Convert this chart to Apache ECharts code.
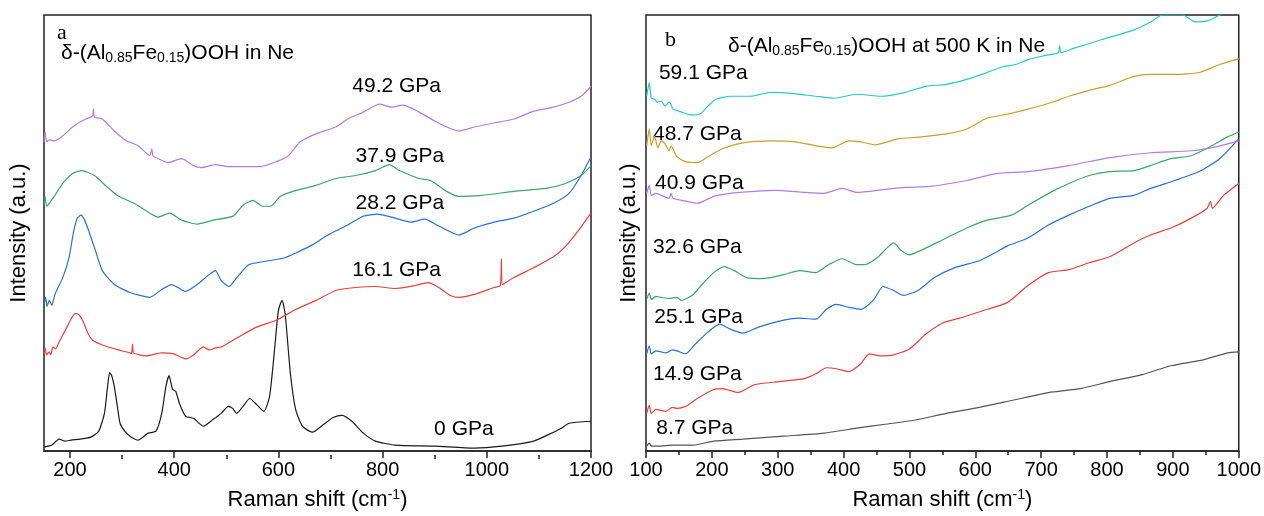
<!DOCTYPE html>
<html>
<head>
<meta charset="utf-8">
<script src="https://cdn.jsdelivr.net/npm/echarts@6/dist/echarts.min.js"></script>
<style>
  html, body { margin: 0; padding: 0; background: #fff; }
  #chart { width: 1264px; height: 516px; }
</style>
</head>
<body>
<div id="chart"></div>
<script>
// ---- panel a: δ-(Al0.85Fe0.15)OOH in Ne (stacked, arbitrary offsets) ----
const a0GPa = [[150,4],[165,6],[179,12],[190,10],[202,11],[220,12],[240,14],[255,20],[266,38],[272,65],[276,79],[280,76],[285,65],[290,48],[296,28],[305,20],[315,15],[331,11],[340,14],[350,18],[365,20],[376,38],[384,65],[390,76],[397,62],[403,60],[410,48],[422,35],[437,33],[456,25],[475,32],[490,38],[504,45],[512,43],[520,38],[532,45],[545,53],[558,47],[572,40],[583,55],[593,105],[600,142],[607,152],[613,138],[623,78],[633,42],[646,25],[665,19],[687,27],[706,34],[722,36],[741,30],[763,18],[786,10],[824,6],[900,5],[976,3],[1029,5],[1090,10],[1120,17],[1143,23],[1158,28],[1200,30]]
const a16GPa = [[150,98],[152,104],[155,97],[160,100],[163,97],[167,105],[172,103],[179,110],[194,125],[205,136],[211,139],[218,137],[224,132],[235,118],[243,112],[262,107],[293,102],[315,99],[318,98],[320,108],[322,99],[346,96],[376,99],[399,98],[422,93],[437,97],[456,105],[467,102],[479,104],[490,105],[520,114],[558,125],[596,132],[634,143],[672,152],[710,162],[748,165],[786,166],[824,164],[862,167],[888,170],[908,165],[930,157],[946,155],[976,158],[1014,165],[1026,167],[1028,194],[1030,168],[1052,175],[1090,185],[1128,196],[1150,206],[1175,222],[1200,240]]
const a28GPa = [[150,147],[153,155],[156,146],[160,152],[165,147],[171,158],[186,175],[198,195],[207,222],[214,235],[221,238],[228,233],[236,222],[247,205],[262,182],[285,168],[315,160],[353,155],[376,163],[395,168],[422,161],[444,168],[467,178],[479,182],[490,172],[505,166],[520,175],[543,188],[581,192],[612,195],[642,202],[665,208],[695,218],[733,228],[763,237],[790,239],[824,235],[854,231],[881,234],[908,227],[946,218],[976,225],[1014,231],[1052,235],[1090,242],[1128,250],[1158,260],[1181,278],[1200,297]]
const a37GPa = [[150,248],[152,257],[155,247],[160,250],[171,258],[186,270],[205,280],[222,283],[247,278],[270,267],[293,257],[323,250],[353,240],[369,236],[391,240],[414,233],[444,229],[475,233],[513,237],[532,248],[551,253],[570,247],[585,247],[604,257],[634,263],[672,268],[710,275],[748,278],[786,283],[813,289],[832,283],[870,275],[892,273],[923,262],[946,257],[991,258],[1052,262],[1113,265],[1151,270],[1181,278],[1200,288]]
const a49GPa = [[150,312],[152,322],[155,312],[160,314],[171,313],[186,318],[207,328],[230,335],[243,338],[245,345],[247,337],[262,335],[285,323],[308,313],[331,308],[353,298],[357,305],[359,298],[369,295],[388,291],[414,295],[437,288],[452,286],[479,289],[505,287],[536,287],[566,287],[596,292],[619,298],[642,312],[672,320],[710,327],[733,335],[763,342],[794,350],[817,347],[839,349],[870,342],[900,333],[923,327],[946,323],[976,327],[1014,331],[1052,335],[1090,343],[1128,347],[1158,352],[1181,358],[1200,368]]
const labelsA = [[827,368,'49.2 GPa'],[833,298,'37.9 GPa'],[833,250,'28.2 GPa'],[827,182,'16.1 GPa'],[956,22,'0 GPa']]
const ticksA = [200, 400, 600, 800, 1000, 1200]
const minorTicksA = [300, 500, 700, 900, 1100]

// ---- panel b: δ-(Al0.85Fe0.15)OOH at 500 K in Ne ----
const b8GPa = [[101,5],[105,8],[108,5],[120,5],[140,6],[172,6],[203,10],[247,12],[309,15],[370,18],[420,23],[463,27],[507,31],[556,38],[606,44],[655,51],[711,59],[760,63],[804,70],[853,77],[897,86],[946,92],[983,99],[1000,100]]
const b14GPa = [[101,38],[105,46],[108,38],[115,42],[123,41],[130,40],[140,44],[147,43],[160,45],[178,53],[203,62],[216,63],[240,59],[265,67],[302,70],[340,73],[358,78],[374,84],[389,83],[408,80],[426,88],[439,98],[457,96],[476,97],[500,103],[525,118],[550,129],[581,135],[618,143],[649,150],[680,167],[711,180],[742,183],[773,190],[804,196],[841,210],[866,218],[897,225],[928,235],[952,245],[957,252],[960,245],[977,258],[1000,270]]
const b25GPa = [[101,98],[105,106],[108,98],[115,101],[123,100],[130,99],[140,102],[147,101],[160,98],[175,108],[194,120],[212,128],[228,123],[247,119],[271,125],[309,132],[333,134],[358,133],[374,143],[389,148],[408,145],[426,143],[445,152],[460,166],[476,162],[491,157],[513,162],[538,175],[569,185],[606,192],[630,200],[649,207],[680,215],[711,228],[742,238],[773,247],[804,255],[841,258],[866,265],[903,273],[940,282],[971,295],[1000,315]]
const b32GPa = [[101,153],[105,159],[108,153],[115,156],[123,155],[135,154],[147,155],[154,152],[172,158],[185,168],[203,180],[219,186],[234,182],[253,175],[278,174],[309,178],[333,182],[358,180],[377,188],[398,194],[420,188],[432,188],[451,195],[466,205],[476,210],[488,202],[500,198],[519,203],[550,213],[587,225],[618,233],[655,238],[680,248],[717,262],[742,270],[773,278],[804,282],[841,283],[866,288],[897,295],[928,298],[959,308],[983,317],[1000,322]]
const b40GPa = [[101,260],[105,268],[108,258],[115,260],[123,258],[135,255],[138,260],[141,255],[154,253],[178,250],[203,257],[228,260],[265,262],[296,263],[340,261],[370,260],[398,265],[420,261],[463,264],[494,266],[531,267],[587,273],[631,280],[680,282],[742,288],[804,296],[866,301],[928,303],[965,307],[1000,313]]
const b48GPa = [[101,308],[105,325],[108,308],[113,318],[118,306],[123,313],[129,310],[135,303],[138,308],[147,297],[160,292],[178,291],[194,297],[216,305],[247,311],[290,313],[327,312],[358,308],[383,306],[408,313],[426,312],[448,309],[482,315],[519,317],[556,320],[587,325],[618,336],[649,340],[680,345],[717,352],[742,358],[773,364],[804,369],[841,378],[866,380],[903,380],[940,382],[971,390],[1000,396]]
const b59GPa = [[101,358],[105,372],[108,356],[113,355],[117,352],[123,353],[129,348],[135,352],[138,350],[141,345],[154,342],[169,339],[182,340],[194,348],[206,355],[228,358],[259,358],[290,362],[321,361],[358,358],[386,356],[420,360],[457,358],[494,362],[525,368],[556,370],[587,375],[618,382],[643,388],[661,390],[680,395],[705,399],[726,402],[728,409],[730,402],[748,406],[791,415],[841,425],[866,433],[884,440],[915,440],[934,433],[952,434],[971,440],[985,446],[1000,452]]
const labelsB = [[187,381,'59.1 GPa'],[178,320,'48.7 GPa'],[181,270,'40.9 GPa'],[178,206,'32.6 GPa'],[180,135,'25.1 GPa'],[178,77,'14.9 GPa'],[174,23,'8.7 GPa']]

const FONT = "'Liberation Sans', Arial, sans-serif"
const SERIF = "'Liberation Serif', 'Times New Roman', serif"
const AXIS_COLOR = '#222'
const TEXT_COLOR = '#000'

function line(data, color, xi, yi) {
  return {
    type: 'line',
    data: data,
    xAxisIndex: xi,
    yAxisIndex: yi,
    symbol: 'none',
    smooth: 0.2,
    lineStyle: { color: color, width: 1.2 },
    silent: true
  }
}

function labelSeries(list, xi, yi) {
  return {
    type: 'scatter',
    xAxisIndex: xi,
    yAxisIndex: yi,
    symbolSize: 0,
    data: list.map(d => ({ value: [d[0], d[1]], name: d[2] })),
    label: {
      show: true,
      position: 'inside',
      formatter: p => p.name,
      fontFamily: FONT,
      fontSize: 21,
      color: TEXT_COLOR,
      opacity: 1
    },
    silent: true
  }
}

const subRich = {
  n: { fontFamily: FONT, fontSize: 21, fontWeight: 'normal', color: TEXT_COLOR, lineHeight: 24 },
  s: { fontFamily: FONT, fontSize: 14, fontWeight: 'normal', color: TEXT_COLOR, verticalAlign: 'bottom', lineHeight: 14, padding: [12, 0, 0, 0] }
}
const axisNameStyle = {
  fontFamily: FONT, fontSize: 22, color: TEXT_COLOR,
  rich: {
    sup: { fontFamily: FONT, fontSize: 14, color: TEXT_COLOR, verticalAlign: 'top', padding: [0, 0, 10, 0] }
  }
}
const plainNum = v => String(v)

function yAxisCfg(gi, gap) {
  return {
    type: 'value', gridIndex: gi, min: 0, max: 440,
    axisLine: { show: false }, axisTick: { show: false },
    axisLabel: { show: false }, splitLine: { show: false },
    name: 'Intensity (a.u.)', nameLocation: 'middle', nameGap: gap,
    nameTextStyle: { fontFamily: FONT, fontSize: 22, color: TEXT_COLOR }
  }
}

const chart = echarts.init(document.getElementById('chart'))
chart.setOption({
  animation: false,
  backgroundColor: '#fff',
  title: [
    { text: 'a', left: 52, top: 17, textStyle: { fontFamily: SERIF, fontSize: 22, fontWeight: 'normal', color: TEXT_COLOR } },
    { text: '{n|δ-(Al}{s|0.85}{n|Fe}{s|0.15}{n|)OOH in Ne}', left: 56, top: 36, textStyle: { fontWeight: 'normal', rich: subRich } },
    { text: 'b', left: 660, top: 24, textStyle: { fontFamily: SERIF, fontSize: 22, fontWeight: 'normal', color: TEXT_COLOR } },
    { text: '{n|δ-(Al}{s|0.85}{n|Fe}{s|0.15}{n|)OOH at 500 K in Ne}', left: 723, top: 29, textStyle: { fontWeight: 'normal', rich: subRich } }
  ],
  grid: [
    { left: 44, top: 15, width: 547, height: 440, show: true, borderColor: AXIS_COLOR, borderWidth: 1.5 },
    { left: 646, top: 15, width: 597, height: 439, show: true, borderColor: AXIS_COLOR, borderWidth: 1.5 }
  ],
  xAxis: [
    {
      type: 'value', gridIndex: 0, position: 'bottom', min: 150, max: 1200,
      axisLine: { lineStyle: { color: AXIS_COLOR, width: 1.5 } },
      axisTick: { customValues: ticksA, length: 7, lineStyle: { color: AXIS_COLOR, width: 1.5 } },
      axisLabel: { customValues: ticksA, formatter: plainNum, fontFamily: FONT, fontSize: 20, color: TEXT_COLOR, margin: 9 },
      splitLine: { show: false },
      name: 'Raman shift (cm{sup|-1})', nameLocation: 'middle', nameGap: 37,
      nameTextStyle: axisNameStyle
    },
    {
      // minor ticks of panel a: a top axis moved down onto the bottom edge, ticks pointing out
      type: 'value', gridIndex: 0, position: 'top', offset: -440, min: 150, max: 1200,
      axisLine: { show: false },
      axisTick: { inside: true, customValues: minorTicksA, length: 4, lineStyle: { color: AXIS_COLOR, width: 1.5 } },
      axisLabel: { show: false },
      splitLine: { show: false }
    },
    {
      type: 'value', gridIndex: 1, position: 'bottom', min: 100, max: 1000, interval: 100,
      axisLine: { lineStyle: { color: AXIS_COLOR, width: 1.5 } },
      axisTick: { length: 7, lineStyle: { color: AXIS_COLOR, width: 1.5 } },
      minorTick: { show: true, splitNumber: 2, length: 4, lineStyle: { color: AXIS_COLOR, width: 1.5 } },
      axisLabel: { formatter: plainNum, fontFamily: FONT, fontSize: 20, color: TEXT_COLOR, margin: 9 },
      splitLine: { show: false },
      name: 'Raman shift (cm{sup|-1})', nameLocation: 'middle', nameGap: 37,
      nameTextStyle: axisNameStyle
    }
  ],
  yAxis: [yAxisCfg(0, 14), yAxisCfg(1, 6)],
  series: [
    line(a0GPa, '#1a1a1a', 0, 0),
    line(a16GPa, '#e8403a', 0, 0),
    line(a28GPa, '#2a6fdb', 0, 0),
    line(a37GPa, '#3aa66a', 0, 0),
    line(a49GPa, '#b07de0', 0, 0),
    labelSeries(labelsA, 0, 0),
    line(b8GPa, '#555555', 2, 1),
    line(b14GPa, '#e8403a', 2, 1),
    line(b25GPa, '#2a6fdb', 2, 1),
    line(b32GPa, '#3aa66a', 2, 1),
    line(b40GPa, '#b07de0', 2, 1),
    line(b48GPa, '#c9a02a', 2, 1),
    line(b59GPa, '#2ac8c8', 2, 1),
    labelSeries(labelsB, 2, 1)
  ]
})
window.addEventListener('resize', () => chart.resize())
</script>
</body>
</html>
